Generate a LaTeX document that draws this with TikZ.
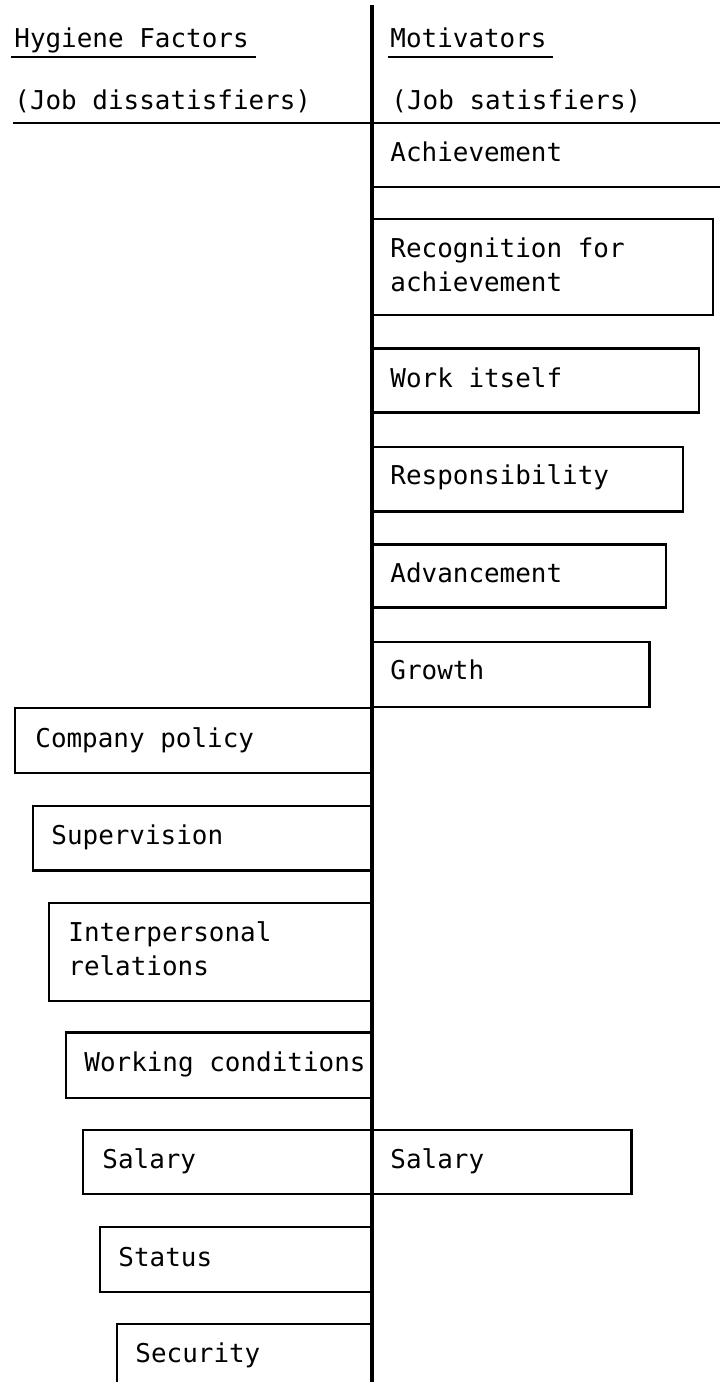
\documentclass[tikz,border=0pt]{standalone}
\usepackage{fontspec}
\newfontfamily\typefont{DejaVu Sans Mono}

\tikzset{
    bar/.style={line width=1.4pt},
    rule/.style={line width=1pt},
    txt/.style={anchor=base west, inner sep=0pt, align=left,
                font=\typefont\fontsize{12.3}{16.1}\selectfont}
}

\begin{document}
\begin{tikzpicture}
    \useasboundingbox (0,0) rectangle (12,23.033);

    \draw [line width=1.6pt] (6.2,0) -- (6.2,22.95);

    \node [txt] (hyg) at (0.233,22.233) {Hygiene Factors};
    \node [txt] (dis) at (0.233,21.2) {(Job dissatisfiers)};
    \node [txt] (mot) at (6.5,22.233) {Motivators};
    \node [txt] (sat) at (6.517,21.2) {(Job satisfiers)};
    \draw [rule] ([yshift=-0.15cm,xshift=-0.05cm]hyg.base west) -- ([yshift=-0.15cm,xshift=0.12cm]hyg.base east);
    \draw [rule] ([yshift=-0.15cm,xshift=-0.03cm]mot.base west) -- ([yshift=-0.15cm,xshift=0.1cm]mot.base east);
    \draw [rule] (0.217,20.983) -- (12,20.983);

    \node [txt] (ach) at (6.5,20.333) {Achievement};
    \draw [rule] (6.2,19.917) -- (12,19.917);

    % two-line texts: base is the last line
    \draw [bar] (6.2,19.383) rectangle (11.883,17.783);
    \node [txt] (rec) at (6.5,18.167) {Recognition for\\achievement};

    \draw [bar] (6.2,17.217) rectangle (11.65,16.15);
    \node [txt] (work) at (6.5,16.567) {Work itself};

    \draw [bar] (6.2,15.583) rectangle (11.383,14.5);
    \node [txt] (resp) at (6.5,14.95) {Responsibility};

    \draw [bar] (6.2,13.95) rectangle (11.1,12.9);
    \node [txt] (adv) at (6.5,13.317) {Advancement};

    \draw [bar] (6.2,12.333) rectangle (10.817,11.25);
    \node [txt] (grow) at (6.5,11.7) {Growth};

    \draw [bar] (0.25,11.233) rectangle (6.2,10.15);
    \node [txt] (comp) at (0.583,10.567) {Company policy};

    \draw [bar] (0.55,9.6) rectangle (6.2,8.517);
    \node [txt] (sup) at (0.85,8.95) {Supervision};

    \draw [bar] (0.817,7.983) rectangle (6.2,6.35);
    \node [txt] (inter) at (1.133,6.783) {Interpersonal\\relations};

    \draw [bar] (1.1,5.817) rectangle (6.2,4.733);
    \node [txt] (cond) at (1.4,5.167) {Working conditions};

    \draw [bar] (1.383,4.2) rectangle (6.2,3.133);
    \node [txt] (salL) at (1.7,3.55) {Salary};
    \draw [bar] (6.2,4.2) rectangle (10.517,3.133);
    \node [txt] (salR) at (6.5,3.55) {Salary};

    \draw [bar] (1.667,2.583) rectangle (6.2,1.5);
    \node [txt] (stat) at (1.967,1.933) {Status};

    \draw [bar] (1.95,-0.1) -- (1.95,0.967) -- (6.2,0.967);
    \node [txt] (sec) at (2.25,0.317) {Security};
\end{tikzpicture}
\end{document}
